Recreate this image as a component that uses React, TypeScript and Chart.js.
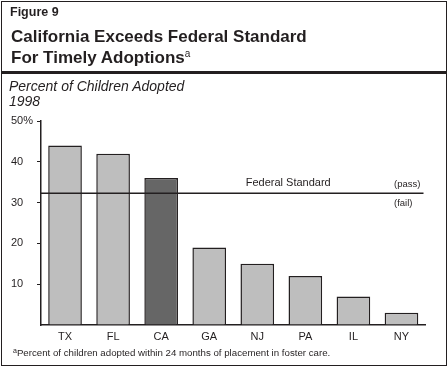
import React, { useEffect, useRef } from "react";
import { Chart, registerables } from "chart.js";

Chart.register(...registerables);

const categories = ["TX", "FL", "CA", "GA", "NJ", "PA", "IL", "NY"];
const percentAdopted = [44, 42, 36, 19, 15, 12, 7, 3];
const highlightCategory = "CA";
const federalStandard = 32.3;
const yMin = 0;
const yMax = 50;
const yStep = 10;

const INK = "#231f20";
const FONT = "'Liberation Sans', Arial, Helvetica, sans-serif";

const federalPlugin = {
  id: "federalStandard",
  afterDatasetsDraw(chart: any) {
    const { ctx, chartArea, scales } = chart;
    const y = scales.y.getPixelForValue(federalStandard);
    const w = chartArea.right - chartArea.left;
    ctx.save();
    ctx.strokeStyle = INK;
    ctx.lineWidth = 1.5;
    ctx.beginPath();
    ctx.moveTo(chartArea.left, y);
    ctx.lineTo(chartArea.right - 2, y);
    ctx.stroke();
    ctx.fillStyle = INK;
    ctx.textBaseline = "middle";
    ctx.font = `11px ${FONT}`;
    ctx.textAlign = "center";
    ctx.fillText("Federal Standard", chartArea.left + w * 0.643, y - 10);
    ctx.font = `9.5px ${FONT}`;
    ctx.textAlign = "left";
    ctx.fillText("(pass)", chartArea.left + w * 0.918, y - 9);
    ctx.fillText("(fail)", chartArea.left + w * 0.918, y + 10);
    ctx.restore();
  },
};

export default function App() {
  const ref = useRef<HTMLCanvasElement | null>(null);

  useEffect(() => {
    if (!ref.current) return;
    const chart = new Chart(ref.current, {
      type: "bar",
      data: {
        labels: categories,
        datasets: [
          {
            data: percentAdopted,
            backgroundColor: categories.map((c) =>
              c === highlightCategory ? "#666666" : "#bebebe"
            ),
            borderColor: INK,
            borderWidth: 1.5,
            categoryPercentage: 0.7,
            barPercentage: 1,
          },
        ],
      },
      options: {
        animation: false,
        responsive: false,
        devicePixelRatio: 1,
        layout: { padding: { left: 11, top: 121, right: 22.5, bottom: 0 } },
        plugins: {
          legend: { display: false },
          title: { display: false },
          tooltip: { enabled: false },
        },
        scales: {
          x: {
            grid: { display: true, drawOnChartArea: false, drawTicks: false },
            border: { display: true, color: INK, width: 1.5 },
            ticks: {
              color: INK,
              font: { family: FONT, size: 11 },
              padding: 5,
              maxRotation: 0,
            },
            afterFit: (scale: any) => {
              scale.height = 44;
            },
          },
          y: {
            min: yMin,
            max: yMax,
            grid: {
              display: true,
              drawOnChartArea: false,
              drawTicks: true,
              tickLength: 4,
              lineWidth: 1,
              color: (ctx: any) =>
                ctx.tick && ctx.tick.value === 0 ? "rgba(0,0,0,0)" : INK,
            },
            border: { display: true, color: INK, width: 1.5 },
            ticks: {
              stepSize: yStep,
              color: INK,
              crossAlign: "far",
              font: { family: FONT, size: 11 },
              padding: 5,
              callback: (v: any) =>
                v === 0 ? "" : v === yMax ? `${v}%` : String(v),
            },
            afterFit: (scale: any) => {
              scale.width = 30;
            },
          },
        },
      },
      plugins: [federalPlugin],
    });
    return () => chart.destroy();
  }, []);

  const abs = (o: React.CSSProperties): React.CSSProperties => ({
    position: "absolute",
    margin: 0,
    color: INK,
    whiteSpace: "nowrap",
    pointerEvents: "none",
    ...o,
  });

  return (
    <div
      style={{
        position: "absolute",
        left: 0,
        top: 0,
        width: 448,
        height: 369,
        background: "#fff",
        fontFamily: FONT,
        overflow: "hidden",
      }}
    >
      <canvas
        ref={ref}
        width={448}
        height={369}
        style={{ position: "absolute", left: 0, top: 0, width: 448, height: 369 }}
      />
      <div
        style={abs({
          left: 1,
          top: 1,
          width: 446,
          height: 365,
          boxSizing: "border-box",
          border: `1px solid ${INK}`,
        })}
      />
      <div style={abs({ left: 10, top: 6.4, fontSize: 12.5, fontWeight: 700, lineHeight: "12.5px" })}>
        Figure 9
      </div>
      <div style={abs({ left: 11, top: 25.9, fontSize: 17, fontWeight: 700, lineHeight: "21px" })}>
        California Exceeds Federal Standard
        <br />
        For Timely Adoptions
        <span style={{ fontSize: 10, fontWeight: 400, position: "relative", top: -6 }}>a</span>
      </div>
      <div style={abs({ left: 1, top: 71, width: 446, height: 3, background: INK })} />
      <div style={abs({ left: 9, top: 79.3, fontSize: 14, fontStyle: "italic", lineHeight: "15px" })}>
        Percent of Children Adopted
        <br />
        1998
      </div>
      <div style={abs({ left: 13, top: 348.3, fontSize: 9.7, lineHeight: "9.7px" })}>
        <span style={{ fontSize: 7, position: "relative", top: -3 }}>a</span>
        Percent of children adopted within 24 months of placement in foster care.
      </div>
    </div>
  );
}
